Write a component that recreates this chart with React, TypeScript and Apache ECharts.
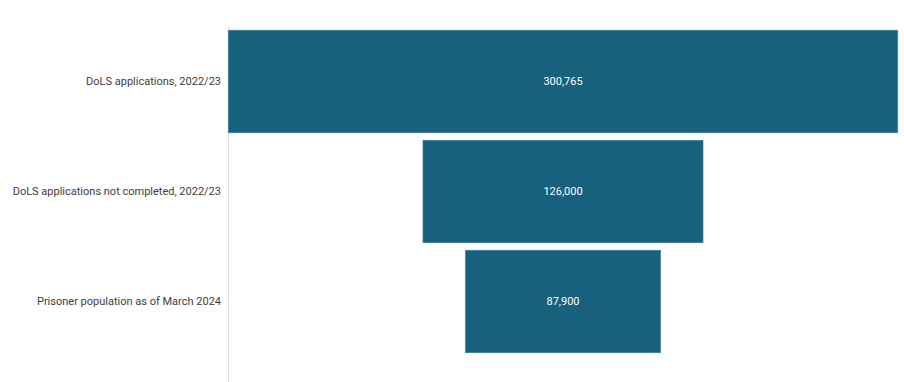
import React, { useEffect, useRef } from "react";
import * as echarts from "echarts";

const categories = [
  "DoLS applications, 2022/23",
  "DoLS applications not completed, 2022/23",
  "Prisoner population as of March 2024",
];
const values = [300765, 126000, 87900];
const maxValue = 300765;
const offsets = values.map((v) => (maxValue - v) / 2);

export default function App() {
  const ref = useRef<HTMLDivElement>(null);
  useEffect(() => {
    document.body.style.margin = "0";
    const chart = echarts.init(ref.current!, undefined, { renderer: "svg" });
    chart.setOption({
      animation: false,
      backgroundColor: "#ffffff",
      grid: { left: 228, right: 6, top: 26.5, height: 330, containLabel: false },
      xAxis: {
        type: "value",
        min: 0,
        max: maxValue,
        show: false,
      },
      yAxis: {
        type: "category",
        data: categories,
        inverse: true,
        axisLine: { show: false },
        axisTick: { show: false },
        axisLabel: {
          color: "#404040",
          fontSize: 11,
          fontFamily: "Roboto, 'Liberation Sans', sans-serif",
          margin: 7,
        },
      },
      graphic: [
        {
          type: "line",
          shape: { x1: 228.5, y1: 27, x2: 228.5, y2: 382 },
          style: { stroke: "#e3e3e3", lineWidth: 1 },
          silent: true,
        },
      ],
      series: [
        {
          type: "bar",
          stack: "f",
          data: offsets,
          itemStyle: { color: "transparent" },
          barCategoryGap: "6.4%",
          silent: true,
        },
        {
          type: "bar",
          stack: "f",
          data: values,
          barCategoryGap: "6.4%",
          itemStyle: { color: "#17617f", borderColor: "#3f7f99", borderWidth: 0.6 },
          label: {
            show: true,
            position: "inside",
            color: "#ffffff",
            fontSize: 11,
            fontFamily: "Roboto, 'Liberation Sans', sans-serif",
            formatter: (p: any) => Number(p.value).toLocaleString("en-US"),
          },
        },
      ],
    });
    return () => chart.dispose();
  }, []);
  return (
    <div
      ref={ref}
      style={{ position: "absolute", left: 0, top: 0, width: 904, height: 382 }}
    />
  );
}
